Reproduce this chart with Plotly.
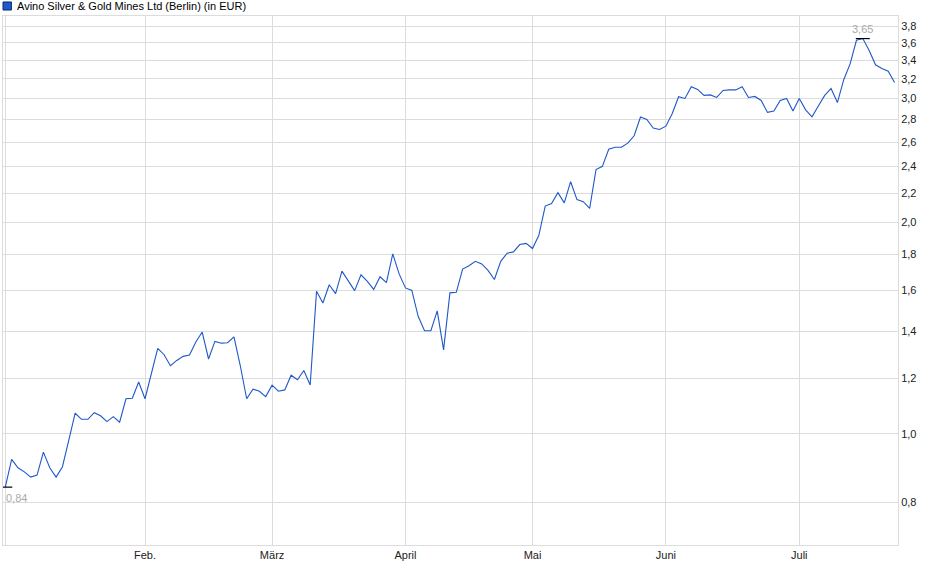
import numpy as np
import pandas as pd
import plotly.graph_objects as go

# ---- data ----
holidays = ["2025-01-01", "2025-04-18", "2025-04-21", "2025-05-01"]
dates = [d.strftime("%Y-%m-%d") for d in pd.bdate_range("2025-01-02", "2025-07-22")
         if d.strftime("%Y-%m-%d") not in holidays]

prices = [
    0.84, 0.92, 0.895, 0.883, 0.868, 0.874, 0.942, 0.895, 0.868, 0.898,
    0.98, 1.07, 1.049, 1.049, 1.072, 1.061, 1.041, 1.058, 1.039, 1.122,
    1.124, 1.185, 1.122, 1.22, 1.323, 1.296, 1.25, 1.272, 1.289, 1.295,
    1.351, 1.396, 1.278, 1.354, 1.346, 1.348, 1.374, 1.25, 1.122, 1.158,
    1.15, 1.13, 1.173, 1.15, 1.155, 1.212, 1.194, 1.231, 1.174, 1.596,
    1.535, 1.63, 1.583, 1.704, 1.654, 1.599, 1.684, 1.648, 1.605, 1.673,
    1.641, 1.803, 1.689, 1.613, 1.60, 1.47, 1.402, 1.402, 1.496, 1.317,
    1.587, 1.59, 1.716, 1.735, 1.76, 1.745, 1.708, 1.658, 1.76, 1.807,
    1.815, 1.859, 1.866, 1.835, 1.916, 2.109, 2.127, 2.204, 2.131, 2.284,
    2.154, 2.139, 2.093, 2.377, 2.402, 2.54, 2.557, 2.557, 2.592, 2.655,
    2.823, 2.80, 2.723, 2.71, 2.74, 2.856, 3.017, 3.0, 3.117, 3.09,
    3.03, 3.035, 3.01, 3.08, 3.085, 3.085, 3.117, 3.01, 3.02, 2.98,
    2.866, 2.88, 2.98, 3.0, 2.88, 3.0, 2.89, 2.825, 2.927, 3.03,
    3.10, 2.96, 3.19, 3.36, 3.63, 3.65, 3.51, 3.35, 3.31, 3.28,
    3.16,
]

month_tick_dates = ["2025-01-02", "2025-02-03", "2025-03-03", "2025-04-01",
                    "2025-05-02", "2025-06-02", "2025-07-01"]
month_tick_labels = ["", "Feb.", "März", "April", "Mai", "Juni", "Juli"]

y_tick_vals = [0.8, 1.0, 1.2, 1.4, 1.6, 1.8, 2.0, 2.2, 2.4, 2.6, 2.8, 3.0,
               3.2, 3.4, 3.6, 3.8]
y_tick_text = [f"{v:.1f}".replace(".", ",") for v in y_tick_vals]

title_text = "Avino Silver & Gold Mines Ltd (Berlin) (in EUR)"

# ---- figure ----
FONT = "Liberation Sans, Arial, sans-serif"
GRID = "#dcdcdc"
LINE = "#1f58c8"

fig = go.Figure()
fig.add_trace(go.Scatter(
    x=dates, y=prices, mode="lines",
    line=dict(color=LINE, width=1.1),
    showlegend=False, hoverinfo="x+y",
))

i_min = int(np.argmin(prices))
i_max = int(np.argmax(prices))
fig.add_trace(go.Scatter(
    x=[dates[i_min], dates[i_max]], y=[prices[i_min], prices[i_max]],
    mode="markers",
    marker=dict(symbol="line-ew", size=10, line=dict(color="#000000", width=1.2)),
    showlegend=False, hoverinfo="skip",
))

fig.add_annotation(x=dates[i_min], y=np.log10(prices[i_min]),
                   text=f"{prices[i_min]:.2f}".replace(".", ","),
                   showarrow=False, xanchor="left", yanchor="middle",
                   xshift=-1, yshift=-11,
                   font=dict(family=FONT, size=11, color="#aaaaaa"))
fig.add_annotation(x=dates[i_max], y=np.log10(prices[i_max]),
                   text=f"{prices[i_max]:.2f}".replace(".", ","),
                   showarrow=False, xanchor="center", yanchor="middle",
                   xshift=0, yshift=10,
                   font=dict(family=FONT, size=11, color="#aaaaaa"))

# title with legend square
fig.add_shape(type="rect", xref="paper", yref="paper",
              x0=0.0, x1=0.0094, y0=1.0113, y1=1.0265,
              fillcolor="#1f58c8", line=dict(color="#0b2a6e", width=1))
fig.add_annotation(xref="paper", yref="paper", x=0.0134, y=1.019,
                   text=title_text, showarrow=False,
                   xanchor="left", yanchor="middle",
                   font=dict(family=FONT, size=11, color="#000000"))

n = len(prices)
fig.update_layout(
    width=940, height=579,
    margin=dict(l=3, r=42, t=16, b=34),
    paper_bgcolor="#ffffff", plot_bgcolor="#ffffff",
    font=dict(family=FONT, size=11, color="#222222"),
    xaxis=dict(
        type="category",
        range=[-0.36, n - 1 + 0.54],
        tickmode="array", tickvals=month_tick_dates, ticktext=month_tick_labels,
        showgrid=True, gridcolor=GRID, gridwidth=1,
        showline=True, linecolor=GRID, linewidth=1, mirror=True,
        ticks="", tickfont=dict(family=FONT, size=11, color="#222222"),
        zeroline=False,
    ),
    yaxis=dict(
        type="log", side="right",
        range=[np.log10(0.695), np.log10(3.93)],
        tickmode="array", tickvals=y_tick_vals, ticktext=y_tick_text,
        showgrid=True, gridcolor=GRID, gridwidth=1,
        showline=True, linecolor=GRID, linewidth=1, mirror=True,
        ticks="", tickfont=dict(family=FONT, size=11, color="#222222"),
        zeroline=False,
    ),
)

fig.write_html("out.html",
               config={"displayModeBar": False},
               post_script="document.body.style.margin='0';document.body.style.overflow='hidden';")
